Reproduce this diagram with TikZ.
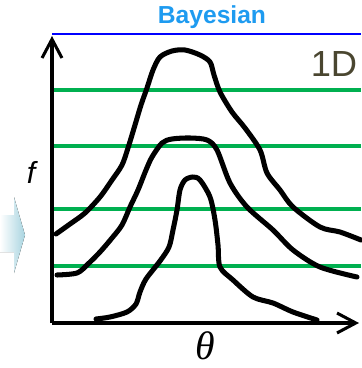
\documentclass[tikz,border=0pt]{standalone}
\usepackage{fontspec}
\setmainfont{Liberation Sans}
\newfontfamily\thetafont{Liberation Serif}
\usepackage{tikz}
\usetikzlibrary{arrows.meta, positioning, shapes.arrows}
\definecolor{titleblue}{HTML}{1E9BF0}
\definecolor{levelgreen}{HTML}{00B050}
\definecolor{olivetext}{HTML}{4A4630}
\definecolor{arrowcyan}{HTML}{A8D4E0}
\tikzset{
  axis/.style={line width=2.8pt, draw=black, -{Straight Barb[length=16pt, width=17pt, line width=2.6pt]}},
  level/.style={line width=3pt, draw=levelgreen},
  curve/.style={line width=4.3pt, draw=black, line join=round, line cap=round, smooth, tension=0.5},
  title/.style={font=\bfseries\fontsize{21}{24}\selectfont, text=titleblue, inner sep=0pt},
}

\begin{document}
\begin{tikzpicture}[x=0.03cm, y=-0.03cm]
    \useasboundingbox (0,0) rectangle (361,368);

    % faded arrow on the left
    \fill[left color=white, right color=arrowcyan]
      (0,215) -- (14,215) -- (14,197) -- (25,235) -- (14,273) -- (14,252) -- (0,252) -- cycle;

    % frame and title
    \node[title] (title) at (212,17) {Bayesian};
    \coordinate (corner) at (52,34);
    \coordinate (topright) at (361,34);
    \draw[line width=1.4pt, draw=blue] (corner) -- (topright);

    % level lines
    \foreach \y in {90,146,209,266}
      \draw[level] (52,\y) -- (361,\y);

    % densities
    \draw[curve] plot coordinates {(56,234) (70,224) (85,213) (100,197) (112,180) (122,165) (128,148) (135,125) (141,105) (147,88) (153,70) (160,57) (172,51) (185,50) (200,55) (210,62) (214,75) (220,92) (232,112) (245,128) (260,150) (267,173) (280,190) (293,207) (320,227) (340,232) (361,240)};
    \draw[curve] plot coordinates {(57,275) (77,273) (88,264) (100,252) (112,238) (122,225) (130,207) (138,190) (146,170) (152,157) (162,143) (172,139) (190,138) (207,140) (217,150) (230,183) (247,207) (273,230) (293,250) (320,267) (357,277)};
    \draw[curve] plot coordinates {(96,319) (110,317) (127,312) (136,304) (140,292) (146,279) (160,261) (169,247) (173,230) (177,210) (180,190) (185,180) (193,177) (200,180) (210,197) (215,220) (218,245) (220,267) (233,280) (253,297) (273,303) (293,312) (317,320)};

    % axes
    \coordinate (origin) at (52,323);
    \draw[axis] (origin) -- (52,36);
    \draw[axis] (origin) -- (359,323);

    % labels
    \node[font=\fontsize{31}{34}\selectfont, text=olivetext, inner sep=0pt] (dim) at (334,64) {1D};
    \node[font=\itshape\fontsize{26}{30}\selectfont, inner sep=0pt] (flabel) at (31,172) {f};
    \node[font=\thetafont\itshape\fontsize{34}{38}\selectfont, inner sep=0pt] (thlabel) at (205,346) {θ};
\end{tikzpicture}
\end{document}
